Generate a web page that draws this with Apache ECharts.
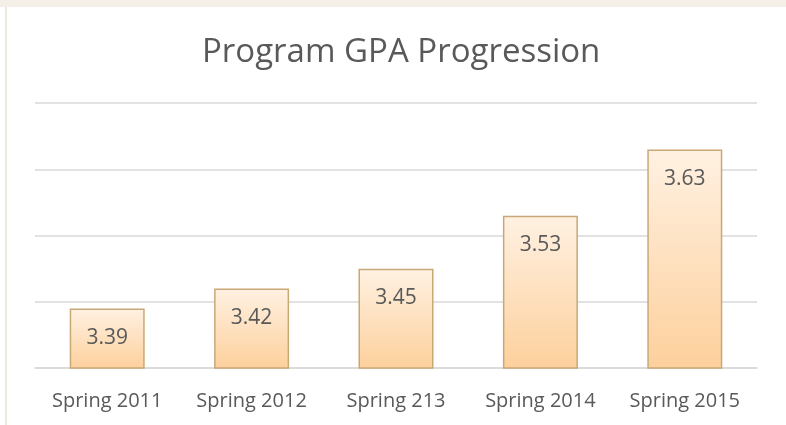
<!DOCTYPE html>
<html>
<head>
<meta charset="utf-8">
<script src="https://cdn.jsdelivr.net/npm/echarts@6/dist/echarts.min.js"></script>
<style>
  html, body { margin: 0; padding: 0; background: #fff; }
  #chart { width: 786px; height: 425px; }
</style>
</head>
<body>
<div id="chart"></div>
<script>
// 数据
const categories = ['Spring 2011', 'Spring 2012', 'Spring 213', 'Spring 2014', 'Spring 2015']
const gpaValues = [3.39, 3.42, 3.45, 3.53, 3.63]
const yMin = 3.3
const yMax = 3.7
const yStep = 0.1

const chart = echarts.init(document.getElementById('chart'))

chart.setOption({
  animation: false,
  backgroundColor: '#ffffff',
  textStyle: { fontFamily: 'Open Sans' },
  // 外框（上方米色条 + 左侧细线）
  graphic: [
    { type: 'rect', shape: { x: 0, y: 0, width: 786, height: 7 }, style: { fill: '#f4f0e8' } },
    { type: 'rect', shape: { x: 5, y: 7, width: 2, height: 418 }, style: { fill: '#ece8e0' } }
  ],
  title: {
    text: 'Program GPA Progression',
    left: 197,
    top: 31,
    textStyle: {
      fontFamily: 'Open Sans',
      fontSize: 33,
      fontWeight: 'normal',
      color: '#595959'
    }
  },
  grid: {
    left: 35,
    right: 29,
    top: 103,
    bottom: 57
  },
  xAxis: {
    type: 'category',
    data: categories,
    axisLine: { lineStyle: { color: '#d9d9d9', width: 1.5 } },
    axisTick: { show: false },
    axisLabel: {
      interval: 0,
      hideOverlap: false,
      color: '#595959',
      fontSize: 20,
      margin: 23
    }
  },
  yAxis: {
    type: 'value',
    min: yMin,
    max: yMax,
    interval: yStep,
    axisLabel: { show: false },
    axisLine: { show: false },
    axisTick: { show: false },
    splitLine: { lineStyle: { color: '#d9d9d9', width: 1.5 } }
  },
  series: [
    {
      type: 'bar',
      data: gpaValues,
      barWidth: 75,
      itemStyle: {
        color: new echarts.graphic.LinearGradient(0, 0, 0, 1, [
          { offset: 0, color: '#fff1e2' },
          { offset: 1, color: '#fdd09c' }
        ]),
        borderColor: '#c9a877',
        borderWidth: 1.5
      },
      label: {
        show: true,
        position: 'insideTop',
        distance: 19,
        color: '#595959',
        fontSize: 21,
        formatter: p => p.value.toFixed(2)
      }
    }
  ]
})
</script>
</body>
</html>
